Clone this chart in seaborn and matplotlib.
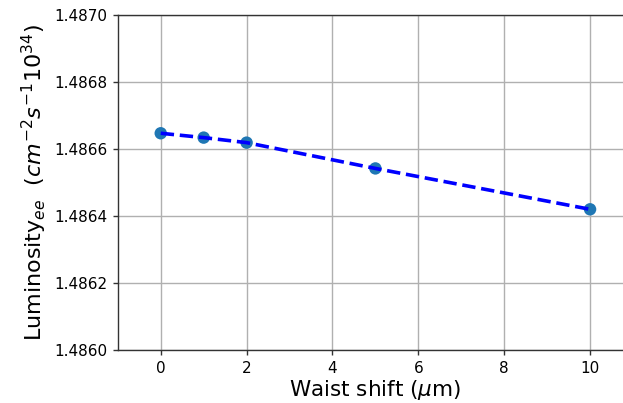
import matplotlib
matplotlib.use("Agg")
import matplotlib.pyplot as plt
import seaborn as sns
import pandas as pd

waist_shift = [0, 1, 2, 5, 10]
luminosity = [1.486647, 1.486634, 1.486619, 1.486542, 1.486420]
yticks = [1.4860, 1.4862, 1.4864, 1.4866, 1.4868, 1.4870]
xticks = [0, 2, 4, 6, 8, 10]

df = pd.DataFrame({"x": waist_shift, "y": luminosity})

sns.set_style("white")
plt.rcParams['font.family'] = ['DejaVu Sans']
plt.rcParams['text.color'] = 'black'
plt.rcParams['axes.labelcolor'] = 'black'

fig = plt.figure(figsize=(6.23, 4.03), dpi=100)
ax = fig.add_axes([117.8 / 623, 53 / 403, (633 - 117.8) / 623, 335 / 403])

sns.scatterplot(data=df, x="x", y="y", ax=ax, s=80, color="#1f77b4",
                edgecolor="none", zorder=2)
sns.lineplot(data=df, x="x", y="y", ax=ax, color="blue", linestyle="--",
             linewidth=2.6, zorder=3)
ax.lines[-1].set_dashes([3.7, 1.6])

ax.set_xlim(-1, 11)
ax.set_ylim(1.4860, 1.4870)
ax.set_xticks(xticks)
ax.set_yticks(yticks)
ax.set_yticklabels([f"{v:.4f}" for v in yticks])
ax.grid(True, color="#b0b0b0", linewidth=1.0)
ax.set_axisbelow(True)
for sp in ax.spines.values():
    sp.set_color("#333333")
    sp.set_linewidth(1.0)
ax.tick_params(axis="both", labelsize=11, length=3.6, width=1, color="#333333",
               labelcolor="black", direction="out", bottom=True, left=True, pad=3.6)
ax.tick_params(axis="x", pad=4)
ax.set_xlabel(r"Waist shift ($\mu$m)", fontsize=15.5, labelpad=1.5)
ax.set_ylabel(r"Luminosity$_{ee}$  $(cm^{-2}s^{-1}10^{34})$", fontsize=16, labelpad=4)

fig.savefig("out.png", dpi=100)
